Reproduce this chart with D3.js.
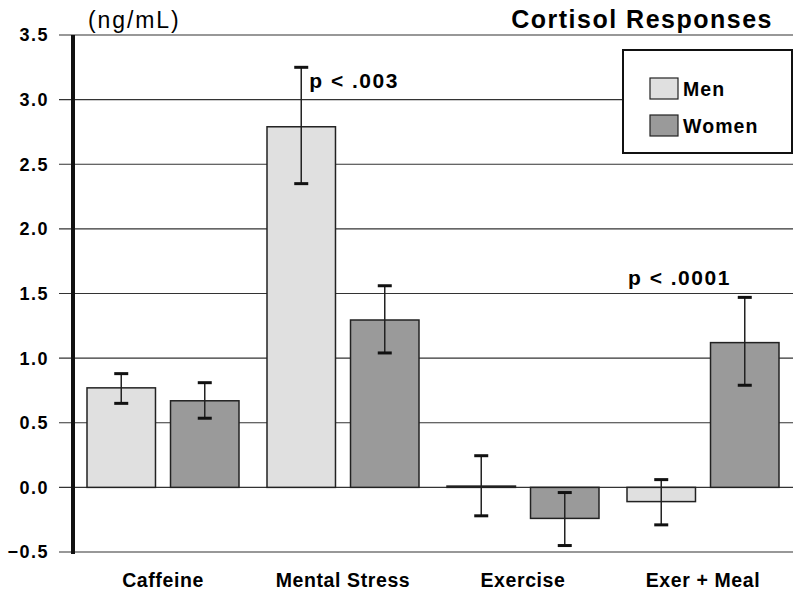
<!DOCTYPE html>
<html>
<head>
<meta charset="utf-8">
<script src="https://cdn.jsdelivr.net/npm/d3@7"></script>
<style>
  body { margin: 0; background: #fff; }
  svg { font-family: "Liberation Sans", Arial, Helvetica, sans-serif; }
  .tick-label { font-size: 18px; font-weight: bold; letter-spacing: 1.5px; }
  .cat-label { font-size: 19.5px; font-weight: bold; letter-spacing: 0.6px; }
  .annot { font-size: 21px; font-weight: bold; letter-spacing: 1.5px; }
  .legend-label { font-size: 19.5px; font-weight: bold; letter-spacing: 1.1px; }
</style>
</head>
<body>
<svg width="800" height="594"></svg>
<script>
const categories = ['Caffeine', 'Mental Stress', 'Exercise', 'Exer + Meal'];
const groups = ['Men', 'Women'];
const menValues = [0.77, 2.79, 0.01, -0.11];
const menErrHigh = [0.88, 3.25, 0.245, 0.06];
const menErrLow = [0.65, 2.35, -0.22, -0.29];
const womenValues = [0.67, 1.295, -0.24, 1.12];
const womenErrHigh = [0.81, 1.56, -0.04, 1.47];
const womenErrLow = [0.535, 1.04, -0.45, 0.79];
const yTicks = [-0.5, 0, 0.5, 1, 1.5, 2, 2.5, 3, 3.5];
const annotations = [
  {text: 'p < .003', category: 'Mental Stress', value: 3.09},
  {text: 'p < .0001', category: 'Exer + Meal', value: 1.565}
];

const colors = {Men: '#e0e0e0', Women: '#9a9a9a'};

const svg = d3.select('svg');

const y = d3.scaleLinear().domain([-0.5, 3.5]).range([552, 35]);
const x0 = d3.scaleBand().domain(categories).range([73, 793]).padding(0);
const x1 = d3.scaleBand().domain(groups).range([14, 166]).paddingInner(0.18);

const rows = [];
categories.forEach((c, i) => {
  rows.push({category: c, group: 'Men', value: menValues[i], hi: menErrHigh[i], lo: menErrLow[i]});
  rows.push({category: c, group: 'Women', value: womenValues[i], hi: womenErrHigh[i], lo: womenErrLow[i]});
});

// gridlines
svg.append('g').selectAll('line').data(yTicks)
  .enter().append('line')
    .attr('x1', 59).attr('x2', 793)
    .attr('y1', d => y(d)).attr('y2', d => y(d))
    .attr('stroke', '#333').attr('stroke-width', 1.2);

// tick labels
svg.append('g').selectAll('text').data(yTicks)
  .enter().append('text')
    .attr('class', 'tick-label')
    .attr('x', 49)
    .attr('y', d => y(d))
    .attr('dy', '0.36em')
    .attr('text-anchor', 'end')
    .text(d3.format('.1f'));

// bars
svg.append('g').selectAll('rect').data(rows)
  .enter().append('rect')
    .attr('x', d => x0(d.category) + x1(d.group))
    .attr('width', x1.bandwidth())
    .attr('y', d => y(Math.max(0, d.value)))
    .attr('height', d => Math.abs(y(d.value) - y(0)))
    .attr('fill', d => colors[d.group])
    .attr('stroke', '#222')
    .attr('stroke-width', 1.5);

// error bars
const err = svg.append('g').selectAll('g').data(rows)
  .enter().append('g')
    .attr('transform', d => `translate(${x0(d.category) + x1(d.group) + x1.bandwidth() / 2},0)`);

err.append('line')
  .attr('y1', d => y(d.hi)).attr('y2', d => y(d.lo))
  .attr('stroke', '#222').attr('stroke-width', 1.5);

err.selectAll('.cap').data(d => [d.hi, d.lo])
  .enter().append('line')
    .attr('class', 'cap')
    .attr('x1', -7).attr('x2', 7)
    .attr('y1', d => y(d)).attr('y2', d => y(d))
    .attr('stroke', '#111').attr('stroke-width', 3);

// y axis thick line
svg.append('line')
  .attr('x1', 73).attr('x2', 73)
  .attr('y1', y(3.5)).attr('y2', y(-0.5) + 2)
  .attr('stroke', '#111').attr('stroke-width', 4);

// category labels
svg.append('g').selectAll('text').data(categories)
  .enter().append('text')
    .attr('class', 'cat-label')
    .attr('x', d => x0(d) + x0.bandwidth() / 2)
    .attr('y', 587)
    .attr('text-anchor', 'middle')
    .text(d => d);

// annotations (first one beside the men's error bar, second over the men's bar)
svg.append('g').selectAll('text').data(annotations)
  .enter().append('text')
    .attr('class', 'annot')
    .attr('x', (d, i) => i === 0
      ? x0(d.category) + x1('Men') + x1.bandwidth() / 2 + 8
      : x0(d.category) + x1('Men') + 1)
    .attr('y', d => y(d.value))
    .text(d => d.text);

// unit label and title
svg.append('text')
  .attr('x', 88).attr('y', 28)
  .attr('font-size', 23)
  .attr('letter-spacing', 1.9)
  .text('(ng/mL)');

svg.append('text')
  .attr('x', 773).attr('y', 28)
  .attr('text-anchor', 'end')
  .attr('font-size', 25)
  .attr('font-weight', 'bold')
  .attr('letter-spacing', 1.5)
  .text('Cortisol Responses');

// legend
const legend = svg.append('g').attr('transform', 'translate(623,50)');
legend.append('rect')
  .attr('width', 169).attr('height', 103)
  .attr('fill', '#fff').attr('stroke', '#111').attr('stroke-width', 2);

const item = legend.selectAll('.item').data(groups)
  .enter().append('g')
    .attr('class', 'item')
    .attr('transform', (d, i) => `translate(27,${28 + i * 37})`);

item.append('rect')
  .attr('width', 28).attr('height', 21)
  .attr('fill', d => colors[d])
  .attr('stroke', '#222').attr('stroke-width', 1.2);

item.append('text')
  .attr('class', 'legend-label')
  .attr('x', 33).attr('y', 17.5)
  .text(d => d);
</script>
</body>
</html>
